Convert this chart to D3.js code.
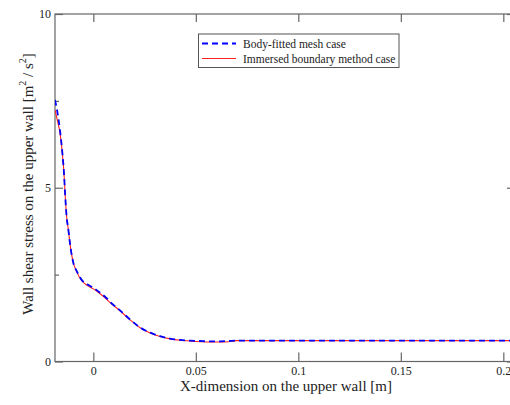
<!DOCTYPE html>
<html><head><meta charset="utf-8">
<script src="https://cdn.jsdelivr.net/npm/d3@7"></script>
<style>
html,body{margin:0;padding:0;background:#fff;overflow:hidden;}
text{font-family:"Liberation Serif","Times New Roman",serif;fill:#222;}
</style></head>
<body>
<svg id="c" width="510" height="405"></svg>
<script>
// ---- data ----
const bodyFittedX = [-0.0187, -0.0176, -0.0162, -0.0151, -0.0143, -0.0138, -0.0130, -0.0122, -0.0114, -0.0098, -0.0081, -0.0057, -0.0030, 0.0, 0.0033, 0.0065, 0.0081, 0.0130, 0.0179, 0.0228, 0.0277, 0.0325, 0.0374, 0.0423, 0.0470, 0.0520, 0.0560, 0.0620, 0.0660, 0.0700, 0.1000, 0.1500, 0.2057];
const bodyFittedY = [7.53, 7.20, 6.62, 6.00, 5.40, 4.85, 4.15, 3.80, 3.40, 2.85, 2.60, 2.35, 2.22, 2.12, 1.98, 1.82, 1.72, 1.47, 1.21, 0.98, 0.83, 0.73, 0.66, 0.62, 0.60, 0.59, 0.58, 0.58, 0.59, 0.60, 0.60, 0.60, 0.60];
const immersedX = [-0.0187, -0.0176, -0.0162, -0.0151, -0.0143, -0.0138, -0.0130, -0.0122, -0.0114, -0.0098, -0.0081, -0.0057, -0.0030, 0.0, 0.0033, 0.0065, 0.0081, 0.0130, 0.0179, 0.0228, 0.0277, 0.0325, 0.0374, 0.0423, 0.0470, 0.0520, 0.0560, 0.0620, 0.0660, 0.0700, 0.1000, 0.1500, 0.2057];
const immersedY = [7.24, 6.95, 6.55, 5.98, 5.40, 4.85, 4.15, 3.80, 3.40, 2.85, 2.58, 2.33, 2.19, 2.09, 1.95, 1.79, 1.70, 1.46, 1.20, 0.97, 0.82, 0.72, 0.65, 0.61, 0.59, 0.57, 0.56, 0.56, 0.57, 0.60, 0.60, 0.60, 0.60];
const xTicks = [0, 0.05, 0.1, 0.15, 0.2];
const xTickLabels = ["0", "0.05", "0.1", "0.15", "0.2"];
const yTicks = [0, 5, 10];
const yMinorTicks = [2.5, 7.5];
const legendLabels = ["Body-fitted mesh case", "Immersed boundary method case"];

// ---- layout ----
const L = 55, R = 515, T = 14, B = 361.5;
const svg = d3.select("#c");
const x = d3.scaleLinear().domain([-0.0187, 0.2057]).range([L, R]);
const y = d3.scaleLinear().domain([0, 10]).range([B, T]);
const axisColor = "#666";

// frame
svg.append("rect").attr("x", L).attr("y", T).attr("width", R - L).attr("height", B - T)
  .attr("fill", "none").attr("stroke", axisColor).attr("stroke-width", 1.2);

// axes via d3 axis generators (inward ticks)
const gx = svg.append("g").attr("transform", `translate(0,${B})`)
  .call(d3.axisBottom(x).tickValues(xTicks).tickSize(-9).tickPadding(5).tickFormat((d, i) => xTickLabels[i]));
const gxt = svg.append("g").attr("transform", `translate(0,${T})`)
  .call(d3.axisTop(x).tickValues(xTicks).tickSize(-8).tickFormat(""));
const gy = svg.append("g").attr("transform", `translate(${L},0)`)
  .call(d3.axisLeft(y).tickValues(yTicks).tickSize(-8).tickPadding(4).tickFormat(d3.format("d")));
const gym = svg.append("g").attr("transform", `translate(${L},0)`)
  .call(d3.axisLeft(y).tickValues(yMinorTicks).tickSize(-4).tickFormat(""));
const gyr = svg.append("g").attr("transform", `translate(${R},0)`)
  .call(d3.axisRight(y).tickValues(yTicks).tickSize(-8).tickFormat(""));
[gx, gxt, gy, gym, gyr].forEach(g => {
  g.select(".domain").remove();
  g.selectAll("line").attr("stroke", axisColor).attr("stroke-width", 1.2);
  g.selectAll("text").attr("font-family", '"Liberation Serif",serif').attr("font-size", 12).attr("fill", "#222");
});

// lines
const line = d3.line().x(d => x(d[0])).y(d => y(d[1])).curve(d3.curveMonotoneX);
const redData = immersedX.map((v, i) => [v, immersedY[i]]);
const blueData = bodyFittedX.map((v, i) => [v, bodyFittedY[i]]);
const clip = svg.append("clipPath").attr("id", "clp").append("rect")
  .attr("x", L).attr("y", T).attr("width", R - L).attr("height", B - T);
svg.append("path").datum(redData).attr("d", line).attr("fill", "none")
  .attr("stroke", "#ff2020").attr("stroke-width", 1.1).attr("clip-path", "url(#clp)");
svg.append("path").datum(blueData).attr("d", line).attr("fill", "none")
  .attr("stroke", "#0000ff").attr("stroke-width", 1.8).attr("stroke-dasharray", "6,4").attr("clip-path", "url(#clp)");

// legend
const lg = svg.append("g");
lg.append("rect").attr("x", 198.5).attr("y", 34).attr("width", 200.5).attr("height", 33.5)
  .attr("fill", "#fff").attr("stroke", "#555").attr("stroke-width", 1);
const legendStyles = [
  {stroke: "#0000ff", w: 1.8, dash: "6,4"},
  {stroke: "#ff2020", w: 1.1, dash: null}
];
legendLabels.forEach((lab, i) => {
  const yy = 43.5 + i * 15;
  lg.append("line").attr("x1", 202).attr("x2", 236).attr("y1", yy).attr("y2", yy)
    .attr("stroke", legendStyles[i].stroke).attr("stroke-width", legendStyles[i].w)
    .attr("stroke-dasharray", legendStyles[i].dash);
  lg.append("text").attr("x", 243).attr("y", yy + 4).attr("font-size", 11.5).text(lab);
});

// axis titles
svg.append("text").attr("x", 286).attr("y", 391).attr("text-anchor", "middle")
  .attr("font-size", 15).text("X-dimension on the upper wall [m]");

const yt = svg.append("text").attr("transform", "translate(33,184) rotate(-90)")
  .attr("text-anchor", "middle").attr("font-size", 15);
yt.append("tspan").text("Wall shear stress on the upper wall [m");
yt.append("tspan").attr("dy", -7).attr("font-size", 10).text("2");
yt.append("tspan").attr("dy", 7).text(" / s");
yt.append("tspan").attr("dy", -7).attr("font-size", 10).text("2");
yt.append("tspan").attr("dy", 7).text("]");
</script>
</body></html>
